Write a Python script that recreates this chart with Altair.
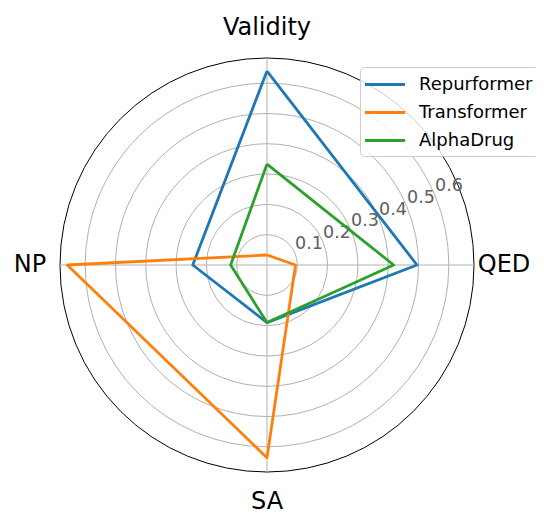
import math
import altair as alt
import pandas as pd

# ---- data ----
categories = ["Validity", "QED", "SA", "NP"]
series_names = ["Repurformer", "Transformer", "AlphaDrug"]
repurformer = [0.64, 0.495, 0.19, 0.245]
transformer = [0.033, 0.094, 0.636, 0.659]
alphadrug = [0.333, 0.418, 0.19, 0.12]
series_colors = ["#1f77b4", "#ff7f0e", "#2ca02c"]
radial_ticks = [0.1, 0.2, 0.3, 0.4, 0.5, 0.6]
tick_labels = ["0.1", "0.2", "0.3", "0.4", "0.5", "0.6"]
r_max = 0.683

# ---- layout ----
R = 207
W = 2 * R
n = len(categories)
label_r = 0.782
tick_angle_deg = 67.5
FONT = "DejaVu Sans"

rows = []
for name, vals in zip(series_names, [repurformer, transformer, alphadrug]):
    for k in range(n + 1):
        i = k % n
        rows.append({"series": name, "order": k, "category": categories[i],
                     "value": vals[i], "idx": i})
lines_df = pd.DataFrame(rows)
cat_df = pd.DataFrame({"category": categories, "idx": list(range(n))})
spoke_rows = []
for i, c in enumerate(categories):
    for rr in (0.0, r_max):
        spoke_rows.append({"category": c, "idx": i, "r": rr})
spoke_df = pd.DataFrame(spoke_rows)
grid_df = pd.DataFrame({"r": radial_ticks})
outer_df = pd.DataFrame({"r": [r_max]})
tick_df = pd.DataFrame({"r": radial_ticks, "label": tick_labels})

xs = alt.Scale(domain=[-r_max, r_max], nice=False, zero=False)
ys = alt.Scale(domain=[-r_max, r_max], nice=False, zero=False)
# Vega circle symbol: diameter = sqrt(size)  ->  size = (2 * radius_px)^2
ss = alt.Scale(type="pow", exponent=2, domain=[0, r_max], range=[0, (2 * R) ** 2],
               zero=True, nice=False)

ang_expr = f"datum.idx * 2 * PI / {n}"


def ring(df, color):
    return alt.Chart(df).mark_point(
        shape="circle", filled=False, stroke=color, strokeWidth=1, opacity=1
    ).encode(
        x=alt.X(datum=0, scale=xs, axis=None),
        y=alt.Y(datum=0, scale=ys, axis=None),
        size=alt.Size("r:Q", scale=ss, legend=None),
    )


grid = ring(grid_df, "#b0b0b0")
outer = ring(outer_df, "black")

spokes = alt.Chart(spoke_df).transform_calculate(
    ang=ang_expr
).transform_calculate(
    sx="datum.r * sin(datum.ang)", sy="datum.r * cos(datum.ang)"
).mark_line(color="#b0b0b0", strokeWidth=1).encode(
    x=alt.X("sx:Q", scale=xs, axis=None),
    y=alt.Y("sy:Q", scale=ys, axis=None),
    detail="category:N",
    order="r:Q",
)

ticks = alt.Chart(tick_df).transform_calculate(
    tx=f"datum.r * sin({tick_angle_deg} * PI / 180)",
    ty=f"datum.r * cos({tick_angle_deg} * PI / 180)",
).mark_text(align="left", baseline="bottom", fontSize=17.5, font=FONT,
            color="#5e5e5e").encode(
    x=alt.X("tx:Q", scale=xs, axis=None),
    y=alt.Y("ty:Q", scale=ys, axis=None),
    text="label:N",
)

lines = alt.Chart(lines_df).transform_calculate(
    ang=ang_expr
).transform_calculate(
    px="datum.value * sin(datum.ang)", py="datum.value * cos(datum.ang)"
).mark_line(strokeWidth=2.8, strokeJoin="round").encode(
    x=alt.X("px:Q", scale=xs, axis=None),
    y=alt.Y("py:Q", scale=ys, axis=None),
    color=alt.Color(
        "series:N",
        scale=alt.Scale(domain=series_names, range=series_colors),
        legend=alt.Legend(
            title=None, orient="none", legendX=300, legendY=9,
            symbolType="M-1.25,0H2.75", symbolSize=400, symbolStrokeWidth=2.8,
            labelFontSize=18, labelFont=FONT, labelColor="black",
            labelOffset=30, padding=6, rowPadding=7,
            fillColor="rgba(255,255,255,0.8)", strokeColor="#cccccc",
            cornerRadius=4,
        ),
    ),
    order="order:Q",
)

cat_labels = alt.Chart(cat_df).transform_calculate(
    ang=ang_expr
).transform_calculate(
    lx=f"{label_r} * sin(datum.ang)", ly=f"{label_r} * cos(datum.ang)"
).mark_text(fontSize=24, font=FONT, color="black", align="center",
            baseline="middle").encode(
    x=alt.X("lx:Q", scale=xs, axis=None),
    y=alt.Y("ly:Q", scale=ys, axis=None),
    text="category:N",
)

chart = alt.layer(grid, outer, spokes, ticks, lines, cat_labels).resolve_scale(
    color="independent"
).properties(
    width=W, height=W,
    autosize=alt.AutoSizeParams(type="none"),
    padding={"left": 52, "top": 50, "right": 62, "bottom": 40},
).configure_view(strokeWidth=0)

chart.save("out.html", embed_options={"renderer": "svg", "actions": False})
